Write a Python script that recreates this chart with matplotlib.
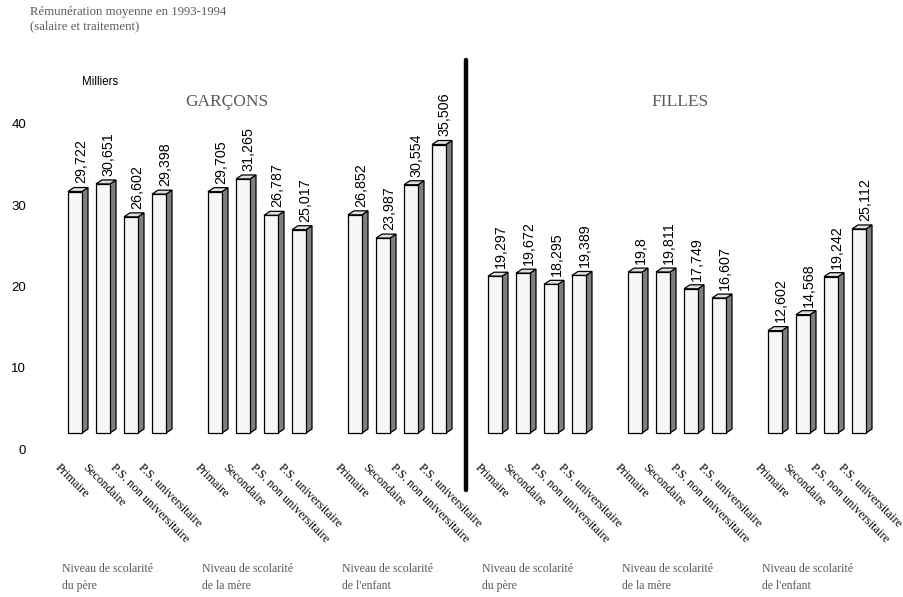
import matplotlib
matplotlib.use("Agg")
import matplotlib.pyplot as plt
import matplotlib.transforms as mtransforms
from matplotlib.patches import Rectangle, Polygon
from matplotlib.lines import Line2D

# Rémunération moyenne (milliers de $) selon le niveau de scolarité
categories = ["Primaire", "Secondaire", "P.S. non universitaire", "P.S. universitaire"]
groups = ["Niveau de scolarité\ndu père", "Niveau de scolarité\nde la mère",
          "Niveau de scolarité\nde l'enfant"] * 2
garcons_pere = [29.722, 30.651, 26.602, 29.398]
garcons_mere = [29.705, 31.265, 26.787, 25.017]
garcons_enfant = [26.852, 23.987, 30.554, 35.506]
filles_pere = [19.297, 19.672, 18.295, 19.389]
filles_mere = [19.8, 19.811, 17.749, 16.607]
filles_enfant = [12.602, 14.568, 19.242, 25.112]
series = [garcons_pere, garcons_mere, garcons_enfant,
          filles_pere, filles_mere, filles_enfant]
yticks = [0, 10, 20, 30, 40]

SANS = ["Liberation Sans", "DejaVu Sans"]
SERIF = ["Liberation Serif", "DejaVu Serif"]
GREY = "#5a5a5a"

W, H = 904, 597
fig = plt.figure(figsize=(W / 100, H / 100), dpi=100)
ax = fig.add_axes([40 / W, (H - 449) / H, 860 / W, 389 / H])
ax.set_xlim(-1, -1 + 860 / 28)
ax.set_ylim(0, 389 / 8.125)
for sp in ax.spines.values():
    sp.set_visible(False)
ax.set_xticks([])
ax.set_yticks(yticks)
ax.set_yticklabels([str(t) for t in yticks], family=SANS, fontsize=9.5)
ax.tick_params(axis="y", length=0, pad=10)

# bars are lifted a little off the floor, as in a 3-D chart
lift = mtransforms.offset_copy(ax.transData, fig=fig, x=0, y=16, units="dots")
bw = 0.5           # front face width (slots)
dx, dy = 6 / 28, 4 / 8.125   # depth of the 3-D box

lab_tr = mtransforms.blended_transform_factory(ax.transData, fig.transFigure)

for g, vals in enumerate(series):
    for i, v in enumerate(vals):
        s = g * 5 + i
        ax.add_patch(Polygon([(s + bw, 0), (s + bw + dx, dy), (s + bw + dx, v + dy), (s + bw, v)],
                             closed=True, fc="#7f7f7f", ec="black", lw=0.9, transform=lift))
        ax.add_patch(Polygon([(s, v), (s + dx, v + dy), (s + bw + dx, v + dy), (s + bw, v)],
                             closed=True, fc="#dedede", ec="black", lw=0.9, transform=lift))
        ax.add_patch(Rectangle((s, 0), bw, v, fc="#f6f6f6", ec="black", lw=0.9, transform=lift))
        ax.text(s + 0.46, v + 1.0, f"{v:g}".replace(".", ","), rotation=90,
                ha="center", va="bottom", family=SANS, fontsize=10.3, transform=lift)
        ax.text(s - 0.26, 1 - 462 / H, categories[i], rotation=-45, rotation_mode="anchor",
                ha="left", va="top", family=SERIF, fontsize=8.9, transform=lab_tr)
    ax.text(g * 5 - 0.22, 1 - 563 / H, groups[g], ha="left", va="top", family=SERIF,
            fontsize=8.5, color=GREY, linespacing=1.6, transform=lab_tr)

# separator between boys and girls
ax.add_line(Line2D([14.2, 14.2], [1 - 60 / H, 1 - 490 / H], color="black", lw=3.2,
                   solid_capstyle="round", transform=lab_tr, clip_on=False))

fig.text(227 / W, 1 - 102 / H, "GARÇONS", ha="center", va="center", family=SERIF,
         fontsize=12.5, color=GREY)
fig.text(680 / W, 1 - 102 / H, "FILLES", ha="center", va="center", family=SERIF,
         fontsize=12.5, color=GREY)
fig.text(82 / W, 1 - 82 / H, "Milliers", ha="left", va="center", family=SANS, fontsize=8.3)
fig.text(30 / W, 1 - 6 / H, "Rémunération moyenne en 1993-1994\n(salaire et traitement)",
         ha="left", va="top", family=SERIF, fontsize=9.2, color=GREY, linespacing=1.3)

fig.savefig("out.png", dpi=100)
